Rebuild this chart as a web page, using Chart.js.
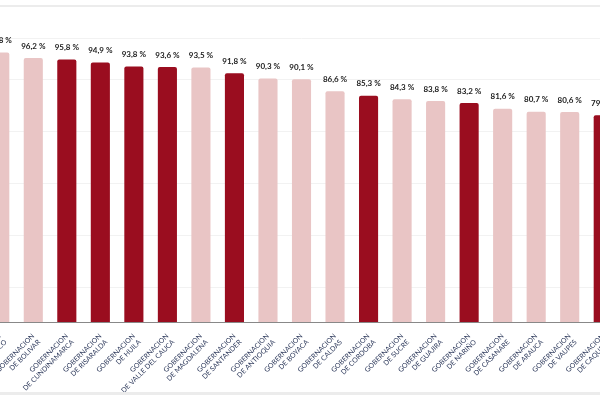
<!DOCTYPE html>
<html>
<head>
<meta charset="utf-8">
<script src="https://cdn.jsdelivr.net/npm/chart.js@4"></script>
<style>
  body { margin: 0; background: #fff; overflow: hidden; }
  #wrap { position: absolute; left: -17px; top: 0; width: 637px; height: 400px; }
  #topline { position: absolute; left: 0; top: 5px; width: 600px; height: 2px; background: #ececec; }
  #bottomline { position: absolute; left: 0; top: 392px; width: 600px; height: 3px; background: #ececec; }
</style>
</head>
<body>
<div id="topline"></div>
<div id="wrap"><canvas id="chart"></canvas></div>
<div id="bottomline"></div>
<script>
// departamentos y porcentajes
var categories = [
    ['GOBERNACION', 'DE ATLANTICO'],
    ['GOBERNACION', 'DE BOLIVAR'],
    ['GOBERNACION', 'DE CUNDINAMARCA'],
    ['GOBERNACION', 'DE RISARALDA'],
    ['GOBERNACION', 'DE HUILA'],
    ['GOBERNACION', 'DE VALLE DEL CAUCA'],
    ['GOBERNACION', 'DE MAGDALENA'],
    ['GOBERNACION', 'DE SANTANDER'],
    ['GOBERNACION', 'DE ANTIOQUIA'],
    ['GOBERNACION', 'DE BOYACA'],
    ['GOBERNACION', 'DE CALDAS'],
    ['GOBERNACION', 'DE CORDOBA'],
    ['GOBERNACION', 'DE SUCRE'],
    ['GOBERNACION', 'DE GUAJIRA'],
    ['GOBERNACION', 'DE NARIÑO'],
    ['GOBERNACION', 'DE CASANARE'],
    ['GOBERNACION', 'DE ARAUCA'],
    ['GOBERNACION', 'DE VAUPES'],
    ['GOBERNACION', 'DE CAQUETA']
];
var values = [97.8, 96.2, 95.8, 94.9, 93.8, 93.6, 93.5, 91.8, 90.3, 90.1, 86.6, 85.3, 84.3, 83.8, 83.2, 81.6, 80.7, 80.6, 79.7];
var highlighted = [false, false, true, true, true, true, false, true, false, false, false, true, false, false, true, false, false, false, true];

var barColors = highlighted.map(h => h ? '#9a0d1f' : '#e9c5c5');

// etiquetas de valor encima de cada barra
var valueLabels = {
    id: 'valueLabels',
    afterDatasetsDraw(chart) {
        var ctx = chart.ctx;
        var meta = chart.getDatasetMeta(0);
        ctx.save();
        ctx.font = 'bold 8px Lato';
        ctx.fillStyle = '#222';
        ctx.textAlign = 'center';
        ctx.textBaseline = 'bottom';
        meta.data.forEach((bar, i) => {
            ctx.fillText(values[i].toFixed(1).replace('.', ',') + ' %', bar.x, bar.y - 8);
        });
        ctx.restore();
    }
};

var ctx = document.getElementById('chart').getContext('2d');
var chart = new Chart(ctx, {
    type: 'bar',
    data: {
        labels: categories,
        datasets: [{
            data: values,
            backgroundColor: barColors,
            borderRadius: { topLeft: 2, topRight: 2 },
            borderSkipped: 'bottom',
            categoryPercentage: 1,
            barPercentage: 0.57
        }]
    },
    options: {
        responsive: true,
        maintainAspectRatio: false,
        animation: false,
        layout: { padding: { top: 38, left: 0, right: 0, bottom: 0 } },
        scales: {
            x: {
                grid: { display: false },
                border: { color: '#888' },
                afterFit: function (scale) {
                    scale.height = 78;
                    scale.paddingLeft = 0;
                    scale.paddingRight = 0;
                },
                ticks: {
                    maxRotation: 45,
                    minRotation: 45,
                    autoSkip: false,
                    color: '#2e3a5c',
                    font: { family: 'Lato', size: 7 },
                    padding: 2
                }
            },
            y: {
                display: true,
                min: 20,
                max: 102,
                border: { display: false },
                grid: { color: '#f2f2f2', drawTicks: false },
                ticks: { display: false, stepSize: 15 },
                afterFit: function (scale) { scale.width = 0; }
            }
        },
        plugins: {
            legend: { display: false },
            tooltip: { enabled: false }
        }
    },
    plugins: [valueLabels]
});
</script>
</body>
</html>
